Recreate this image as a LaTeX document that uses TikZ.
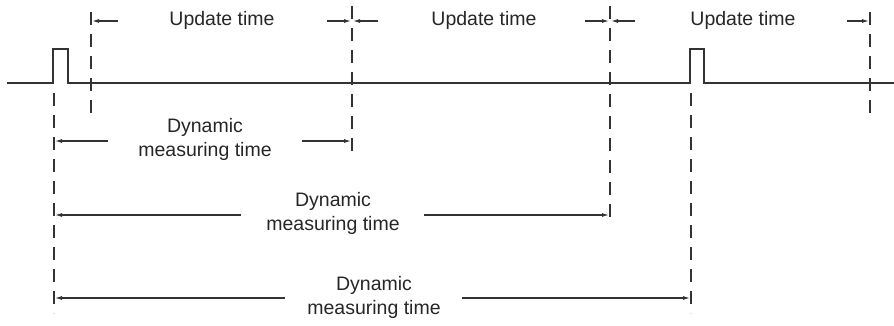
\documentclass[tikz,border=0pt]{standalone}
\usepackage{fontspec}
\setmainfont{Liberation Sans}
\usetikzlibrary{arrows.meta}
\begin{document}
\begin{tikzpicture}[x=1pt,y=-1pt,
  line width=1.1pt, draw=black!80,
  guide/.style={draw=black!80, line width=1.1pt, dash pattern=on 13pt off 9pt},
  dimarrow/.style={draw=black!80, line width=1.1pt, -{Latex[length=7pt,width=4pt]}},
  lbl/.style={text=black!85, font=\fontsize{19.5}{24}\selectfont, inner sep=0pt, align=center}]
\useasboundingbox (0,0) rectangle (894,325);
% signal
\coordinate (s0) at (7,83);
\coordinate (s1) at (894,83);
\draw[line width=1.1pt, draw=black!80] (s0) -- (53,83) -- (53,49) -- (68,49) -- (68,83)
  -- (690,83) -- (690,49) -- (704,49) -- (704,83) -- (s1);
% guide lines
\coordinate (g1t) at (91,12);  \coordinate (g1b) at (91,118);
\coordinate (g2t) at (352,6);  \coordinate (g2b) at (352,157);
\coordinate (g3t) at (610,6);  \coordinate (g3b) at (610,225);
\coordinate (g4t) at (870,12); \coordinate (g4b) at (870,118);
\coordinate (p1t) at (54,93);  \coordinate (p1b) at (54,313);
\coordinate (p2t) at (691,93); \coordinate (p2b) at (691,313);
\draw[guide] (g1t) -- (g1b);
\draw[guide] (g2t) -- (g2b);
\draw[guide] (g3t) -- (g3b);
\draw[guide] (g4t) -- (g4b);
\draw[guide] (p1t) -- (p1b);
\draw[guide] (p2t) -- (p2b);
% update time
\node[lbl] (u1) at (222,20) {Update time};
\node[lbl] (u2) at (484,20) {Update time};
\node[lbl] (u3) at (743,20) {Update time};
\coordinate (a1s) at (118,21); \coordinate (a1e) at (92,21);
\coordinate (a2s) at (327,21); \coordinate (a2e) at (351,21);
\coordinate (a3s) at (378,21); \coordinate (a3e) at (353,21);
\coordinate (a4s) at (585,21); \coordinate (a4e) at (609,21);
\coordinate (a5s) at (635,21); \coordinate (a5e) at (611,21);
\coordinate (a6s) at (847,21); \coordinate (a6e) at (869,21);
\draw[dimarrow] (a1s) -- (a1e);
\draw[dimarrow] (a2s) -- (a2e);
\draw[dimarrow] (a3s) -- (a3e);
\draw[dimarrow] (a4s) -- (a4e);
\draw[dimarrow] (a5s) -- (a5e);
\draw[dimarrow] (a6s) -- (a6e);
% dynamic measuring time
\node[lbl] (d1) at (205,139) {Dynamic\\measuring time};
\node[lbl] (d2) at (333,213) {Dynamic\\measuring time};
\node[lbl] (d3) at (374,297) {Dynamic\\measuring time};
\coordinate (b1l) at (108,141); \coordinate (b1le) at (55,141);
\coordinate (b1r) at (302,141); \coordinate (b1re) at (351,141);
\coordinate (b2l) at (241,215); \coordinate (b2le) at (55,215);
\coordinate (b2r) at (424,215); \coordinate (b2re) at (609,215);
\coordinate (b3l) at (285,298); \coordinate (b3le) at (55,298);
\coordinate (b3r) at (462,298); \coordinate (b3re) at (690,298);
\draw[dimarrow] (b1l) -- (b1le);
\draw[dimarrow] (b1r) -- (b1re);
\draw[dimarrow] (b2l) -- (b2le);
\draw[dimarrow] (b2r) -- (b2re);
\draw[dimarrow] (b3l) -- (b3le);
\draw[dimarrow] (b3r) -- (b3re);
\end{tikzpicture}
\end{document}
